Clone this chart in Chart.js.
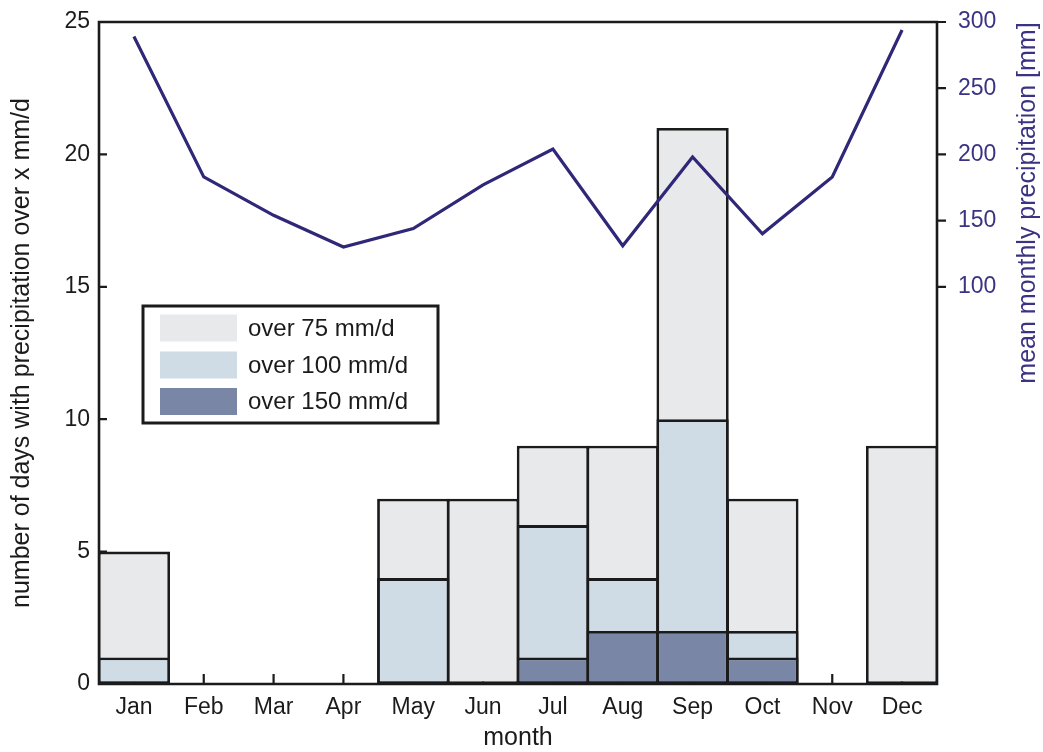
<!DOCTYPE html>
<html>
<head>
<meta charset="utf-8">
<script src="https://cdn.jsdelivr.net/npm/chart.js@4/dist/chart.umd.min.js"></script>
<style>
  html, body { margin: 0; padding: 0; background: #ffffff; }
  #wrap { width: 1043px; height: 752px; position: relative; }
</style>
</head>
<body>
<div id="wrap"><canvas id="chart" width="1043" height="752"></canvas></div>
<script>
// Heavy-rain days per month and mean monthly precipitation
const months = ['Jan', 'Feb', 'Mar', 'Apr', 'May', 'Jun', 'Jul', 'Aug', 'Sep', 'Oct', 'Nov', 'Dec'];
const daysOver75 = [5, 0, 0, 0, 7, 7, 9, 9, 21, 7, 0, 9];
const daysOver100 = [1, 0, 0, 0, 4, 0, 6, 4, 10, 2, 0, 0];
const daysOver150 = [0, 0, 0, 0, 0, 0, 1, 2, 2, 1, 0, 0];
const meanPrecip = [289, 183, 154, 130, 144, 177, 204, 131, 198, 140, 183, 294];
const daysTicks = [0, 5, 10, 15, 20, 25];
const precipTicks = [100, 150, 200, 250, 300];
const seriesLabels = ['over 75 mm/d', 'over 100 mm/d', 'over 150 mm/d'];

const FONT = '"Liberation Sans", Arial, Helvetica, sans-serif';
const INK = '#1b1b1b';
const PURPLE = '#2f2777';
const PURPLE_TEXT = '#3a3383';
const FILLS = ['#e8e9eb', '#cfdce6', '#7a86a6'];
const AXIS_W = 2.6;
const TICK_SIZE = 23;

const hideZero = ctx => (ctx.raw ? 2.8 : 0);

function barSet(label, data, fill, order) {
  return {
    type: 'bar',
    label: label,
    data: data,
    backgroundColor: fill,
    borderColor: INK,
    borderWidth: hideZero,
    borderSkipped: false,
    grouped: false,
    barPercentage: 1,
    categoryPercentage: 1.035,
    yAxisID: 'y',
    order: order
  };
}

// vertical axes keep no extra room above/below the plot
function fitVertical(width) {
  return s => {
    s.width = width;
    s.paddingTop = 0;
    s.paddingBottom = 0;
  };
}

// Tick marks drawn under the bars (inward ticks), axis frame drawn on top
const framePlugin = {
  id: 'frame',
  beforeDatasetsDraw(chart) {
    const { ctx, chartArea: a, scales } = chart;
    ctx.save();
    ctx.strokeStyle = INK;
    ctx.lineWidth = 2.2;
    ctx.beginPath();
    months.forEach((m, i) => {
      const x = scales.x.getPixelForValue(i);
      ctx.moveTo(x, a.bottom);
      ctx.lineTo(x, a.bottom - 10);
    });
    daysTicks.forEach(v => {
      const y = scales.y.getPixelForValue(v);
      ctx.moveTo(a.left, y);
      ctx.lineTo(a.left + 8, y);
    });
    ctx.stroke();
    ctx.restore();
  },
  afterDraw(chart) {
    const { ctx, chartArea: a, scales } = chart;
    ctx.save();
    ctx.strokeStyle = INK;
    ctx.lineWidth = AXIS_W;
    ctx.lineCap = 'square';
    ctx.beginPath();
    ctx.moveTo(a.left, a.top);
    ctx.lineTo(a.right, a.top);
    ctx.moveTo(a.left, a.top);
    ctx.lineTo(a.left, a.bottom);
    ctx.lineTo(a.right, a.bottom);
    ctx.moveTo(a.right, a.top);
    ctx.lineTo(a.right, a.bottom);
    ctx.stroke();
    ctx.lineWidth = 2.2;
    ctx.lineCap = 'butt';
    ctx.beginPath();
    precipTicks.forEach(v => {
      const y = scales.y1.getPixelForValue(v);
      ctx.moveTo(a.right, y);
      ctx.lineTo(a.right + 9, y);
    });
    ctx.stroke();

    // axis titles
    ctx.font = '25px ' + FONT;
    ctx.textAlign = 'center';
    ctx.textBaseline = 'middle';
    ctx.fillStyle = INK;
    ctx.fillText('month', (a.left + a.right) / 2, 738);
    ctx.save();
    ctx.translate(22, (a.top + a.bottom) / 2);
    ctx.rotate(-Math.PI / 2);
    ctx.fillText('number of days with precipitation over x mm/d', 0, 0);
    ctx.restore();
    ctx.save();
    ctx.fillStyle = PURPLE_TEXT;
    ctx.translate(1028, 203);
    ctx.rotate(-Math.PI / 2);
    ctx.fillText('mean monthly precipitation [mm]', 0, 0);
    ctx.restore();

    // legend box inside the plot
    const lx = 143, ly = 306, lw = 295, lh = 117;
    ctx.fillStyle = '#ffffff';
    ctx.fillRect(lx, ly, lw, lh);
    ctx.lineWidth = 3;
    ctx.strokeStyle = INK;
    ctx.strokeRect(lx, ly, lw, lh);
    ctx.font = '24px ' + FONT;
    ctx.textAlign = 'left';
    ctx.textBaseline = 'middle';
    const rows = [328, 365, 401.5];
    seriesLabels.forEach((t, i) => {
      ctx.fillStyle = FILLS[i];
      ctx.fillRect(160, rows[i] - 13.5, 77, 27);
      ctx.fillStyle = INK;
      ctx.fillText(t, 248, rows[i] + 1);
    });
    ctx.restore();
  }
};

new Chart(document.getElementById('chart'), {
  data: {
    labels: months,
    datasets: [
      {
        type: 'line',
        label: 'mean monthly precipitation',
        data: meanPrecip,
        borderColor: PURPLE,
        borderWidth: 3.2,
        pointRadius: 0,
        tension: 0,
        fill: false,
        yAxisID: 'y1',
        order: 0
      },
      barSet(seriesLabels[2], daysOver150, FILLS[2], 1),
      barSet(seriesLabels[1], daysOver100, FILLS[1], 2),
      barSet(seriesLabels[0], daysOver75, FILLS[0], 3)
    ]
  },
  options: {
    responsive: false,
    animation: false,
    devicePixelRatio: 1,
    layout: { padding: { top: 22, left: 0, right: 0, bottom: 0 } },
    plugins: {
      legend: { display: false },
      tooltip: { enabled: false },
      title: { display: false }
    },
    scales: {
      x: {
        type: 'category',
        offset: true,
        grid: { display: false, drawTicks: false },
        border: { display: false },
        ticks: { color: INK, font: { family: FONT, size: TICK_SIZE }, padding: 10, maxRotation: 0, autoSkip: false },
        afterFit(s) { s.height = 68; s.paddingLeft = 0; s.paddingRight = 0; }
      },
      y: {
        position: 'left',
        min: 0,
        max: 25,
        grid: { display: false, drawTicks: false },
        border: { display: false },
        afterBuildTicks(s) { s.ticks = daysTicks.map(v => ({ value: v })); },
        ticks: { color: INK, font: { family: FONT, size: TICK_SIZE }, padding: 9 },
        afterFit: fitVertical(99)
      },
      y1: {
        position: 'right',
        min: -200,
        max: 300,
        grid: { display: false, drawTicks: false },
        border: { display: false },
        afterBuildTicks(s) { s.ticks = precipTicks.map(v => ({ value: v })); },
        ticks: { color: PURPLE_TEXT, font: { family: FONT, size: TICK_SIZE }, padding: 21 },
        afterFit: fitVertical(106)
      }
    }
  },
  plugins: [framePlugin]
});
</script>
</body>
</html>
